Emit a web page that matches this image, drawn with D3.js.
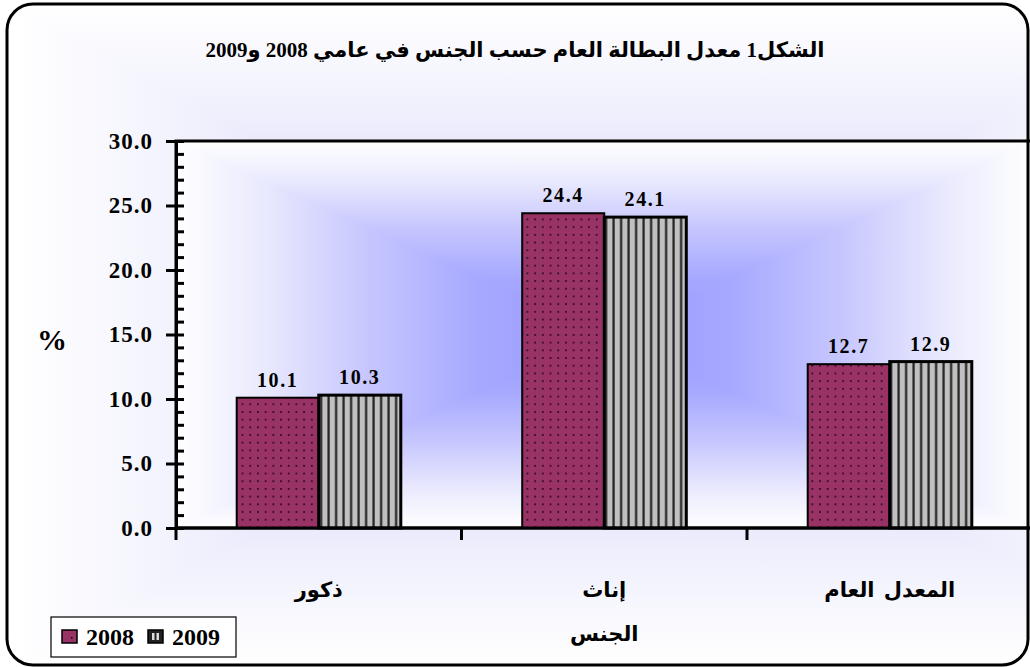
<!DOCTYPE html>
<html>
<head>
<meta charset="utf-8">
<script src="https://cdn.jsdelivr.net/npm/d3@7"></script>
<style>
  body { margin: 0; background: #fff; }
  text { font-family: "Liberation Serif", "DejaVu Sans", serif; font-weight: bold; fill: #000; }
</style>
</head>
<body>
<div id="graphe"></div>
<script>
//----------------------------------------------------------------
//  données du graphique
//----------------------------------------------------------------
var categories = ["ذكور", "إناث", "المعدل العام"];
var series = ["2008", "2009"];
var valeurs2008 = [10.1, 24.4, 12.7];
var valeurs2009 = [10.3, 24.1, 12.9];
var ticksY = [0, 5, 10, 15, 20, 25, 30];
var titre = "الشكل1 معدل البطالة العام حسب الجنس في عامي 2008 و2009";
var titreX = "الجنس";
var titreY = "%";

//----------------------------------------------------------------
//  création svg
//----------------------------------------------------------------
largeurSvg = 1030 ; hauteurSvg = 667;
var zone = {gauche: 176, droite: 1032.5, haut: 141, bas: 528};

var svg = d3.select("#graphe")
    .append("svg")
    .attr("width", largeurSvg)
    .attr("height", hauteurSvg);

var defs = svg.append("defs");

//----------------------------------------------------------------
//  dégradé rectangulaire "depuis le centre" (4 triangles)
//  les arrêts vont du bord (0) vers le centre (1)
//----------------------------------------------------------------
function degradeRect(parent, id, x, y, w, h, arrets) {
    var cx = x + w / 2, cy = y + h / 2;
    var cotes = [
        {n: "h", pts: [[x, y], [x + w, y], [cx, cy]], g: [cx, y, cx, cy]},
        {n: "b", pts: [[x, y + h], [x + w, y + h], [cx, cy]], g: [cx, y + h, cx, cy]},
        {n: "g", pts: [[x, y], [x, y + h], [cx, cy]], g: [x, cy, cx, cy]},
        {n: "d", pts: [[x + w, y], [x + w, y + h], [cx, cy]], g: [x + w, cy, cx, cy]}
    ];
    cotes.forEach(function(c) {
        var lg = defs.append("linearGradient").attr("id", id + c.n)
            .attr("gradientUnits", "userSpaceOnUse")
            .attr("x1", c.g[0]).attr("y1", c.g[1])
            .attr("x2", c.g[2]).attr("y2", c.g[3]);
        arrets.forEach(function(a) {
            lg.append("stop").attr("offset", a[0]).attr("stop-color", a[1]);
        });
        parent.append("polygon")
            .attr("points", c.pts.map(function(p) { return p.join(","); }).join(" "))
            .attr("fill", "url(#" + id + c.n + ")")
            .attr("stroke", "url(#" + id + c.n + ")")
            .attr("stroke-width", 0.8);
    });
}

// motif points (2008)
var m1 = defs.append("pattern").attr("id", "points")
    .attr("patternUnits", "userSpaceOnUse")
    .attr("width", 7.7).attr("height", 7.7);
m1.append("rect").attr("width", 7.7).attr("height", 7.7).attr("fill", "#993366");
m1.append("rect").attr("x", 3).attr("y", 3).attr("width", 1.6).attr("height", 1.6).attr("fill", "#1a0010");

// motif rayures (2009)
var m2 = defs.append("pattern").attr("id", "rayures")
    .attr("patternUnits", "userSpaceOnUse")
    .attr("width", 7.5).attr("height", 8);
m2.append("rect").attr("width", 7.5).attr("height", 8).attr("fill", "#c0c0c0");
m2.append("rect").attr("x", 5).attr("width", 2.2).attr("height", 8).attr("fill", "#222");

var remplissage = {"2008": "url(#points)", "2009": "url(#rayures)"};

//----------------------------------------------------------------
//  fond et cadre
//----------------------------------------------------------------
defs.append("clipPath").attr("id", "clipCadre")
    .append("rect")
    .attr("x", 7).attr("y", 4)
    .attr("width", 1021).attr("height", 661)
    .attr("rx", 26).attr("ry", 26);

var fond = svg.append("g").attr("clip-path", "url(#clipCadre)");
degradeRect(fond, "dgGraphe", 14, 4, 1181, 661,
    [[0, "#ffffff"], [0.3, "#f1f1fd"], [0.55, "#e2e2fb"], [1, "#cfcffb"]]);

var trace = svg.append("g");
degradeRect(trace, "dgTrace", zone.gauche, zone.haut,
    zone.droite - zone.gauche, zone.bas - zone.haut,
    [[0, "#ffffff"], [0.2, "#eaeafe"], [0.45, "#c6c6fe"], [0.7, "#a7a9ff"], [1, "#9598ff"]]);

svg.append("rect")
    .attr("x", zone.gauche).attr("y", zone.haut)
    .attr("width", zone.droite - zone.gauche)
    .attr("height", zone.bas - zone.haut)
    .attr("fill", "none")
    .attr("stroke", "#000").attr("stroke-width", 3);

//----------------------------------------------------------------
//  échelles
//----------------------------------------------------------------
var x0 = d3.scaleBand()
    .domain(categories)
    .range([zone.gauche, zone.droite]);
var x1 = d3.scaleBand()
    .domain(series)
    .range([0, x0.bandwidth()])
    .paddingInner(0)
    .paddingOuter(0.74);
var y = d3.scaleLinear()
    .domain([0, 30])
    .range([zone.bas, zone.haut]);

//----------------------------------------------------------------
//  barres
//----------------------------------------------------------------
var donnees = [];
categories.forEach(function(c, i) {
    donnees.push({cat: c, serie: "2008", val: valeurs2008[i]});
    donnees.push({cat: c, serie: "2009", val: valeurs2009[i]});
});

svg.append("g").selectAll("rect")
    .data(donnees)
    .enter().append("rect")
    .attr("x", function(d) { return x0(d.cat) + x1(d.serie); })
    .attr("y", function(d) { return y(d.val); })
    .attr("width", x1.bandwidth())
    .attr("height", function(d) { return y(0) - y(d.val); })
    .attr("fill", function(d) { return remplissage[d.serie]; })
    .attr("stroke", "#000")
    .attr("stroke-width", function(d) { return d.serie == "2009" ? 3 : 2; });

svg.append("g").selectAll("text")
    .data(donnees)
    .enter().append("text")
    .attr("x", function(d) { return x0(d.cat) + x1(d.serie) + x1.bandwidth() / 2; })
    .attr("y", function(d) { return y(d.val) - 11; })
    .attr("text-anchor", "middle")
    .style("font-size", "20px")
    .style("letter-spacing", "1.6px")
    .text(function(d) { return d.val.toFixed(1); });

//----------------------------------------------------------------
//  axes
//----------------------------------------------------------------
// graduations secondaires (vers l'intérieur)
svg.append("g")
    .attr("class", "axis axis--ymin")
    .attr("transform", "translate(" + zone.gauche + ",0)")
    .call(d3.axisRight(y).ticks(30).tickSize(8).tickFormat(""));

// graduations principales
svg.append("g")
    .attr("class", "axis axis--y")
    .attr("transform", "translate(" + zone.gauche + ",0)")
    .call(d3.axisLeft(y).tickValues(ticksY).tickSize(10).tickPadding(13)
        .tickFormat(d3.format(".1f")));

// axe des x : graduations aux limites des catégories
var limites = x0.domain().map(function(c) { return x0(c); }).concat([zone.droite]);
svg.append("g")
    .attr("class", "axis axis--x")
    .selectAll("line")
    .data(limites)
    .enter().append("line")
    .attr("x1", function(d) { return d; }).attr("x2", function(d) { return d; })
    .attr("y1", zone.bas).attr("y2", zone.bas + 12)
    .attr("stroke", "#000").attr("stroke-width", 3);

svg.append("line")
    .attr("x1", zone.gauche).attr("x2", zone.droite)
    .attr("y1", zone.bas).attr("y2", zone.bas)
    .attr("stroke", "#000").attr("stroke-width", 3);

svg.selectAll(".axis path").attr("stroke", "#000").attr("stroke-width", 3);
svg.selectAll(".axis line").attr("stroke", "#000").attr("stroke-width", 3);
svg.selectAll(".axis--y text")
    .style("font-size", "23px")
    .style("letter-spacing", "1px")
    .style("font-family", "'Liberation Serif', serif")
    .attr("fill", "#000");

svg.append("g").selectAll("text")
    .data(categories)
    .enter().append("text")
    .attr("x", function(d) { return x0(d) + x0.bandwidth() / 2; })
    .attr("y", 597)
    .attr("text-anchor", "middle")
    .attr("direction", "rtl")
    .style("font-size", "21px")
    .style("word-spacing", "4px")
    .text(function(d) { return d; });

svg.append("text")
    .attr("x", x0(categories[1]) + x0.bandwidth() / 2)
    .attr("y", 641)
    .attr("text-anchor", "middle")
    .style("font-size", "21px")
    .text(titreX);

svg.append("text")
    .attr("x", 52).attr("y", 350)
    .attr("text-anchor", "middle")
    .style("font-size", "30px")
    .text(titreY);

//----------------------------------------------------------------
//  titre
//----------------------------------------------------------------
svg.append("text")
    .attr("x", 515).attr("y", 57)
    .attr("text-anchor", "middle")
    .attr("direction", "rtl")
    .style("font-size", "21px")
    .text(titre);

//----------------------------------------------------------------
//  légende
//----------------------------------------------------------------
var leg = svg.append("g").attr("transform", "translate(51,617)");
leg.append("rect")
    .attr("width", 185).attr("height", 40)
    .attr("fill", "#fff").attr("stroke", "#000").attr("stroke-width", 1.2);
var posLeg = [{x: 11, tx: 35}, {x: 97, tx: 121}];
series.forEach(function(s, i) {
    leg.append("rect")
        .attr("x", posLeg[i].x).attr("y", 13)
        .attr("width", 15).attr("height", 13)
        .attr("fill", s == "2008" ? "#993366" : "#222")
        .attr("stroke", "#000").attr("stroke-width", 1.5);
    if (s == "2009") {
        leg.append("rect").attr("x", posLeg[i].x + 4).attr("y", 16)
            .attr("width", 2.5).attr("height", 7).attr("fill", "#ddd");
        leg.append("rect").attr("x", posLeg[i].x + 8.5).attr("y", 16)
            .attr("width", 2.5).attr("height", 7).attr("fill", "#ddd");
    } else {
        leg.append("rect").attr("x", posLeg[i].x + 9).attr("y", 20)
            .attr("width", 1.5).attr("height", 1.5).attr("fill", "#000");
    }
    leg.append("text")
        .attr("x", posLeg[i].tx).attr("y", 28)
        .style("font-size", "24px")
        .text(s);
});

//----------------------------------------------------------------
//  cadre extérieur
//----------------------------------------------------------------
svg.append("rect")
    .attr("x", 7).attr("y", 4)
    .attr("width", 1021).attr("height", 661)
    .attr("rx", 26).attr("ry", 26)
    .attr("fill", "none")
    .attr("stroke", "#000").attr("stroke-width", 3);
</script>
</body>
</html>
